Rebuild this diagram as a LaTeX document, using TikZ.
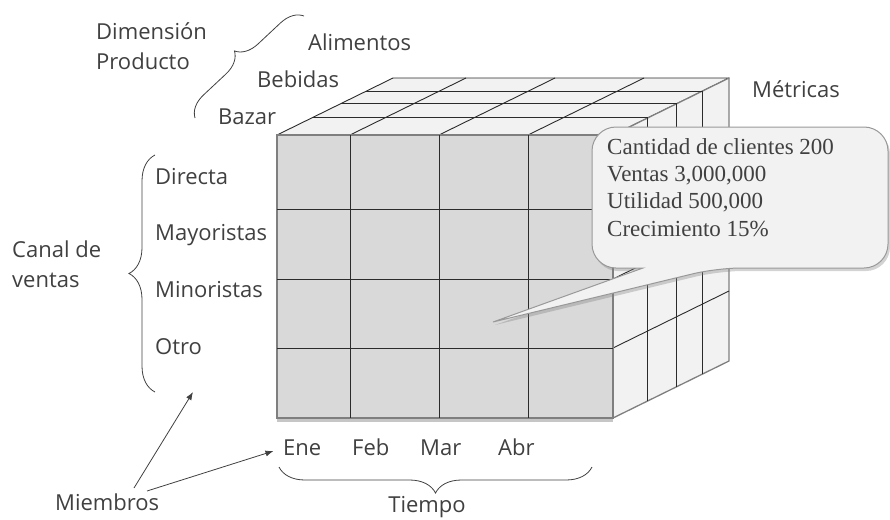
\documentclass[tikz,border=0pt]{standalone}
\usepackage{fontspec}
\setmainfont{Open Sans}
\newfontfamily\calloutfont{Liberation Serif}
\usetikzlibrary{decorations.pathreplacing,shadows,arrows.meta}
\definecolor{txt}{HTML}{404040}
\definecolor{frontfill}{HTML}{D9D9D9}
\definecolor{sidefill}{HTML}{F2F2F2}
\definecolor{edgegray}{HTML}{7F7F7F}
\definecolor{gridc}{HTML}{2B2B2B}
\begin{document}
\begin{tikzpicture}[x=1pt,y=-1pt,
  lbl/.style={font=\fontsize{22}{25}\selectfont, text=txt, inner sep=0pt, anchor=west, text height=15.7pt, text depth=0pt},
  grid/.style={draw=gridc, line width=0.9pt},
  face/.style={fill=sidefill, draw=gridc, line width=0.9pt, line join=round},
  bracelr/.style={draw=txt, line width=0.8pt, decorate, decoration={brace, amplitude=26pt}},
  ptr/.style={draw=txt, line width=0.8pt, -{Latex[length=8pt,width=6pt]}},
]
\useasboundingbox (0,0) rectangle (890,519);
% top face
\path[face] (277,135) -- (613,135) -- (729,78) -- (393,78) -- cycle;
% right face
\path[face, draw=edgegray, line width=1.3pt] (613,135) -- (729,78) -- (729,361) -- (613,418) -- cycle;
% top face grid
\foreach \x in {350,439,528} \draw[grid] (\x,135) -- ++(116,-57);
\foreach \t in {0.3,0.55,0.77} \draw[grid] (277+116*\t,135-57*\t) -- (613+116*\t,135-57*\t);
% right face grid
\foreach \t in {0.3,0.55,0.77} \draw[grid] (613+116*\t,135-57*\t) -- (613+116*\t,418-57*\t);
\foreach \y in {209,279,348} \draw[grid] (613,\y) -- ++(116,-57);
% front face
\node[draw=edgegray, line width=1.5pt, fill=frontfill, minimum width=336pt, minimum height=283pt, inner sep=0pt,
      drop shadow={shadow xshift=0pt, shadow yshift=-4pt, opacity=0.45}] (front) at (445,276.5) {};
\foreach \x in {350,439,528} \draw[grid] (\x,135) -- (\x,418);
\foreach \y in {209,279,348} \draw[grid] (277,\y) -- (613,\y);
% callout
\path[fill=sidefill, draw=edgegray!80, line width=1pt,
      drop shadow={shadow xshift=2pt, shadow yshift=-3pt, opacity=0.35}]
  (493,322) -- (643,268) [rounded corners=24pt] -- (592,268) -- (592,127) -- (888,127) -- (888,268) -- (717,268) [sharp corners] -- cycle;
\node[anchor=north west, align=left, inner sep=0pt, text=txt,
      font=\calloutfont\fontsize{23}{27.4}\selectfont] (metrics) at (607,138)
  {Cantidad de clientes 200\\Ventas 3,000,000\\Utilidad 500,000\\Crecimiento 15\%};
% labels
\node[lbl] (dim) at (96,32) {Dimensión};
\node[lbl] (prod) at (96,62) {Producto};
\node[lbl] (alim) at (308,43) {Alimentos};
\node[lbl] (beb) at (257,80) {Bebidas};
\node[lbl] (baz) at (218,117) {Bazar};
\node[lbl] (met) at (752,90) {Métricas};
\node[lbl] (dir) at (155,177) {Directa};
\node[lbl] (may) at (155,233) {Mayoristas};
\node[lbl] (min) at (155,290) {Minoristas};
\node[lbl] (otro) at (155,347) {Otro};
\node[lbl] (canal) at (12,250) {Canal de};
\node[lbl] (vent) at (12,280) {ventas};
\node[lbl] (miem) at (55,503) {Miembros};
\node[lbl] (ene) at (283,448) {Ene};
\node[lbl] (feb) at (352,448) {Feb};
\node[lbl] (mar) at (420,448) {Mar};
\node[lbl] (abr) at (498,448) {Abr};
\node[lbl, anchor=center] (tiempo) at (427,505) {Tiempo};
% braces
\coordinate (cb1) at (155,392); \coordinate (cb2) at (155,155);
\draw[bracelr] (cb1) -- (cb2);
\coordinate (tb1) at (592,467); \coordinate (tb2) at (279,467);
\draw[bracelr] (tb1) -- (tb2);
\coordinate (db1) at (195,118); \coordinate (db2) at (304,16);
\draw[bracelr, decoration={brace, amplitude=22pt}] (db1) -- (db2);
% arrows
\coordinate (a1) at (193,392);
\draw[ptr] (134,488) -- (a1);
\draw[ptr, shorten >=10pt] (147,491) -- (ene.west);
\end{tikzpicture}
\end{document}
